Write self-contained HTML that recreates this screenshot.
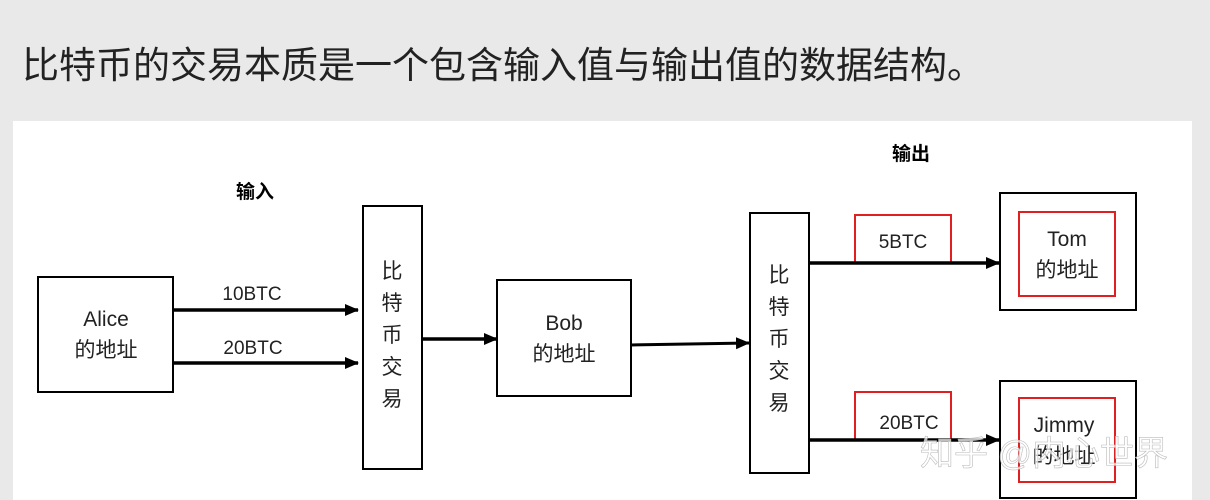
<!DOCTYPE html>
<html><head><meta charset="utf-8"><style>
body{margin:0;width:1210px;height:500px;background:#e9e9e9;overflow:hidden;font-family:"Liberation Sans","Noto Sans CJK SC",sans-serif;}
svg{position:absolute;left:0;top:0}
</style></head><body>
<svg width="1210" height="500" xmlns="http://www.w3.org/2000/svg" font-family="Liberation Sans, Noto Sans CJK SC, sans-serif">
<defs><marker id="a" markerWidth="14" markerHeight="14" refX="13" refY="7" orient="auto" markerUnits="userSpaceOnUse"><path d="M0,1 L14,7 L0,13 z" fill="#000"/></marker></defs>
<text x="22" y="78" font-size="37" fill="#222">比特币的交易本质是一个包含输入值与输出值的数据结构。</text>
<rect x="13" y="121" width="1179" height="379" fill="#fff"/>
<text x="255" y="198" font-size="19" font-weight="bold" text-anchor="middle">输入</text>
<text x="911" y="160" font-size="19" font-weight="bold" text-anchor="middle">输出</text>
<g fill="none" stroke="#000" stroke-width="2">
<rect x="38" y="277" width="135" height="115"/>
<rect x="363" y="206" width="59" height="263"/>
<rect x="497" y="280" width="134" height="116"/>
<rect x="750" y="213" width="59" height="260"/>
<rect x="1000" y="193" width="136" height="117"/>
<rect x="1000" y="381" width="136" height="117"/>
</g>
<g fill="none" stroke="#e02020" stroke-width="2">
<rect x="1019" y="212" width="96" height="84"/>
<rect x="1019" y="398" width="96" height="84"/>
<rect x="855" y="215" width="96" height="48"/>
<rect x="855" y="392" width="96" height="48"/>
</g>
<g stroke="#000" stroke-width="3.5" marker-end="url(#a)">
<line x1="173" y1="310" x2="358" y2="310"/>
<line x1="173" y1="363" x2="358" y2="363"/>
<line x1="422" y1="339" x2="497" y2="339"/>
<line x1="631" y1="345" x2="749" y2="343" stroke-width="3"/>
<line x1="809" y1="263" x2="999" y2="263"/>
<line x1="809" y1="440" x2="999" y2="440"/>
</g>
<g font-size="21" fill="#222" text-anchor="middle">
<text x="252" y="300" font-size="19">10BTC</text>
<text x="253" y="354" font-size="19">20BTC</text>
<text x="106" y="326">Alice</text>
<text x="106" y="357">的地址</text>
<text x="564" y="330">Bob</text>
<text x="564" y="361">的地址</text>
<text x="1067" y="246">Tom</text>
<text x="1067" y="277">的地址</text>
<text x="1064" y="432">Jimmy</text>
<text x="1064" y="463">的地址</text>
<text x="903" y="248" font-size="19">5BTC</text>
<text x="909" y="429" font-size="19">20BTC</text>
<text x="392" y="278">比</text><text x="392" y="310">特</text><text x="392" y="342">币</text><text x="392" y="374">交</text><text x="392" y="406">易</text>
<text x="779" y="282">比</text><text x="779" y="314">特</text><text x="779" y="346">币</text><text x="779" y="378">交</text><text x="779" y="410">易</text>
</g>
<text x="920" y="465" font-size="34" fill="#ffffff" fill-opacity="0.75" stroke="#bbb" stroke-width="0.6">知乎 @内心世界</text>
</svg>
</body></html>
